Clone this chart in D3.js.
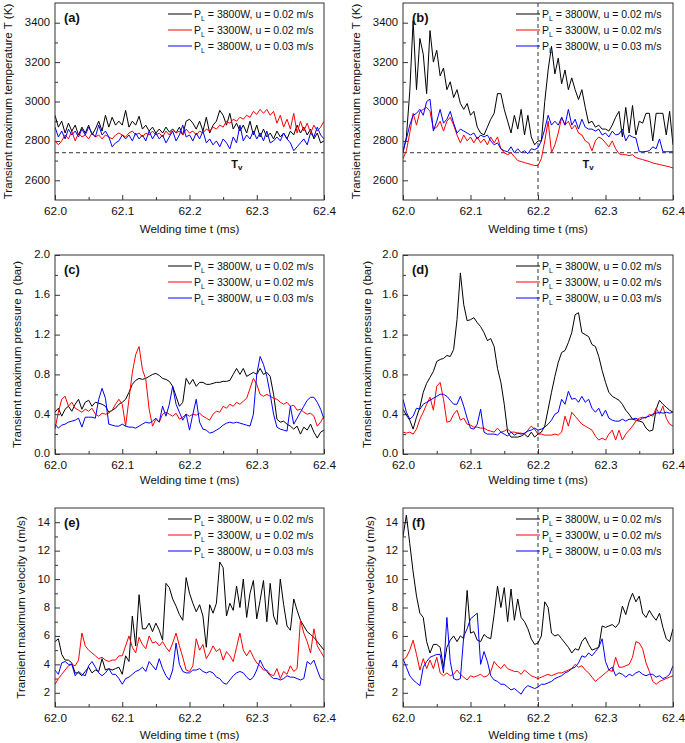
<!DOCTYPE html>
<html><head><meta charset="utf-8">
<script src="https://cdn.jsdelivr.net/npm/d3@7"></script>
<style>body{margin:0;background:#fff}svg{display:block}</style>
</head><body>
<svg id="chart" width="685" height="743"></svg>
<script>
// ---------- DATA ----------
const tStart = 62.0, tStep = 0.005;           // sample grid of every series (81 points)
const xTicks = [62.0, 62.1, 62.2, 62.3, 62.4];
const xMinor = [62.05, 62.15, 62.25, 62.35];
const legendLabels = ["3800W, u = 0.02 m/s", "3300W, u = 0.02 m/s", "3800W, u = 0.03 m/s"];
const tempTicks = [2600, 2800, 3000, 3200, 3400];
const tempMinor = [2500, 2700, 2900, 3100, 3300, 3500];
const pressTicks = [0.0, 0.4, 0.8, 1.2, 1.6, 2.0];
const pressMinor = [0.2, 0.6, 1.0, 1.4, 1.8];
const velTicks = [2, 4, 6, 8, 10, 12, 14];
const velMinor = [1, 3, 5, 7, 9, 11, 13, 15];
const Tv = 2740;
const splitTime = 62.2;

// (a) temperature
const tempA_black = [2930,2870,2900,2840,2890,2850,2880,2830,2870,2840,
 2880,2830,2860,2900,2850,2930,2870,2920,2880,2900,
 2880,2955,2870,2900,2880,2925,2860,2880,2850,2870,
 2840,2860,2840,2870,2845,2860,2840,2870,2830,2900,
 2910,2890,2860,2900,2850,2920,2840,2880,2900,2955,
 2930,2880,2940,2860,2890,2850,2880,2840,2900,2830,
 2880,2820,2860,2820,2840,2810,2850,2820,2840,2810,
 2850,2830,2880,2840,2870,2830,2860,2810,2840,2790,
 2800];
const tempA_red = [2800,2780,2800,2830,2810,2850,2800,2840,2820,2830,
 2810,2840,2820,2830,2810,2830,2820,2810,2830,2840,
 2830,2820,2840,2850,2830,2840,2820,2840,2830,2850,
 2830,2840,2820,2850,2830,2860,2840,2850,2830,2860,
 2840,2850,2830,2850,2840,2860,2850,2870,2860,2880,
 2870,2900,2890,2910,2900,2920,2910,2930,2920,2950,
 2935,2960,2940,2960,2930,2950,2890,2930,2870,2910,
 2860,2940,2840,2900,2850,2890,2840,2880,2850,2870,
 2900];
const tempA_blue = [2870,2820,2850,2810,2860,2830,2850,2820,2860,2830,
 2870,2840,2820,2880,2830,2850,2820,2770,2790,2800,
 2830,2810,2830,2800,2840,2810,2830,2800,2850,2810,
 2840,2810,2830,2790,2820,2850,2800,2830,2880,2820,
 2830,2800,2840,2810,2850,2790,2810,2780,2800,2770,
 2810,2790,2760,2820,2790,2880,2800,2830,2810,2850,
 2810,2840,2800,2850,2790,2800,2820,2800,2840,2810,
 2790,2750,2770,2790,2810,2780,2840,2820,2870,2830,
 2810];

// (b) temperature
const tempB_black = [2740,2820,3050,3410,3060,3320,3240,3040,3360,3200,
 3260,3130,3170,3060,3100,3020,3060,2990,2960,2990,
 2930,2950,2870,2840,2830,2870,2910,2940,3040,3040,
 2960,2900,2840,2930,2860,2960,2830,2930,2820,2780,
 2800,2800,3000,3160,3280,3140,3220,3090,3160,3060,
 3120,3060,3010,3060,2970,2890,2900,2870,2880,2860,
 2860,2850,2880,2920,2950,2820,2970,2840,2980,2830,
 2900,2890,2940,2940,2800,2940,2940,2940,2830,2950,
 2780];
const tempB_red = [2710,2750,2840,2940,2880,2950,2960,2970,2950,2860,
 2870,2900,2850,2900,2920,2880,2830,2790,2830,2800,
 2820,2790,2820,2790,2810,2780,2820,2790,2820,2760,
 2740,2730,2740,2720,2700,2695,2690,2685,2680,2675,
 2675,2710,2800,2900,2740,2780,2840,2920,2880,2900,
 2860,2880,2840,2830,2800,2790,2750,2800,2820,2810,
 2790,2770,2800,2760,2735,2730,2730,2725,2730,2715,
 2710,2705,2700,2695,2688,2684,2680,2676,2672,2668,
 2662];
const tempB_blue = [2750,2810,2880,2930,2940,2960,2930,3000,3012,2850,
 2900,2960,2890,2910,2950,2890,2840,2860,2850,2840,
 2830,2840,2810,2830,2820,2830,2800,2780,2790,2760,
 2750,2745,2770,2740,2760,2740,2750,2735,2760,2755,
 2765,2800,2860,2930,2880,2900,2880,2920,2880,2960,
 2880,2910,2860,2910,2870,2860,2860,2850,2860,2830,
 2840,2820,2850,2830,2835,2860,2800,2830,2820,2815,
 2745,2745,2746,2750,2770,2760,2810,2745,2745,2745,
 2745];

// (c) pressure
const pressC_black = [0.42,0.46,0.38,0.45,0.48,0.43,0.50,0.55,0.45,0.52,
 0.54,0.48,0.52,0.51,0.50,0.48,0.42,0.44,0.46,0.50,
 0.52,0.55,0.62,0.70,0.74,0.76,0.75,0.76,0.78,0.80,
 0.81,0.79,0.76,0.75,0.73,0.68,0.58,0.48,0.52,0.76,
 0.70,0.75,0.68,0.72,0.72,0.70,0.70,0.71,0.72,0.72,
 0.73,0.73,0.74,0.80,0.86,0.80,0.86,0.78,0.80,0.82,
 0.80,0.86,0.80,0.82,0.78,0.60,0.35,0.32,0.33,0.30,
 0.28,0.25,0.28,0.20,0.27,0.24,0.30,0.22,0.16,0.22,
 0.24];
const pressC_red = [0.25,0.42,0.55,0.58,0.48,0.52,0.46,0.44,0.42,0.45,
 0.43,0.46,0.40,0.38,0.41,0.40,0.41,0.44,0.50,0.55,
 0.50,0.28,0.55,0.82,1.00,1.08,0.85,0.75,0.45,0.28,
 0.35,0.32,0.40,0.42,0.40,0.38,0.41,0.35,0.37,0.40,
 0.38,0.40,0.39,0.41,0.38,0.36,0.34,0.40,0.43,0.42,
 0.48,0.46,0.50,0.48,0.52,0.50,0.53,0.56,0.66,0.76,
 0.70,0.60,0.58,0.60,0.58,0.56,0.55,0.52,0.50,0.52,
 0.48,0.49,0.44,0.45,0.42,0.40,0.41,0.38,0.28,0.32,
 0.38];
const pressC_blue = [0.30,0.26,0.29,0.30,0.32,0.33,0.34,0.36,0.27,0.37,
 0.37,0.37,0.36,0.55,0.66,0.56,0.30,0.29,0.28,0.28,
 0.30,0.28,0.27,0.27,0.26,0.28,0.30,0.32,0.31,0.33,
 0.36,0.32,0.48,0.38,0.50,0.68,0.50,0.42,0.34,0.40,
 0.24,0.40,0.55,0.32,0.25,0.24,0.21,0.22,0.24,0.26,
 0.29,0.31,0.32,0.31,0.32,0.31,0.30,0.29,0.28,0.40,
 0.80,0.98,0.90,0.78,0.60,0.40,0.27,0.25,0.24,0.23,
 0.48,0.30,0.36,0.42,0.48,0.54,0.57,0.57,0.52,0.45,
 0.35];

// (d) pressure
const pressD_black = [0.45,0.39,0.34,0.25,0.37,0.47,0.62,0.71,0.77,0.83,
 0.93,0.95,0.96,0.99,0.98,1.05,1.35,1.82,1.50,1.34,
 1.35,1.37,1.32,1.28,1.22,1.14,1.16,1.08,0.86,0.72,
 0.50,0.22,0.17,0.17,0.17,0.18,0.20,0.17,0.22,0.17,
 0.20,0.22,0.28,0.45,0.62,0.78,0.92,1.02,1.04,1.12,
 1.22,1.40,1.42,1.22,1.20,1.18,1.10,1.08,0.98,0.84,
 0.72,0.62,0.58,0.56,0.54,0.50,0.44,0.40,0.35,0.34,
 0.33,0.32,0.26,0.23,0.24,0.45,0.54,0.50,0.47,0.44,
 0.42];
const pressD_red = [0.22,0.21,0.22,0.20,0.25,0.35,0.42,0.50,0.57,0.44,
 0.68,0.72,0.55,0.32,0.33,0.40,0.44,0.34,0.36,0.30,
 0.29,0.27,0.27,0.26,0.26,0.24,0.23,0.22,0.26,0.22,
 0.23,0.25,0.22,0.22,0.21,0.21,0.20,0.24,0.28,0.25,
 0.20,0.20,0.19,0.19,0.19,0.20,0.19,0.22,0.38,0.28,
 0.42,0.38,0.34,0.30,0.28,0.26,0.24,0.18,0.14,0.16,
 0.14,0.20,0.24,0.14,0.24,0.14,0.20,0.24,0.28,0.33,
 0.36,0.37,0.36,0.40,0.38,0.46,0.40,0.48,0.36,0.30,
 0.28];
const pressD_blue = [0.55,0.42,0.35,0.38,0.46,0.45,0.50,0.52,0.54,0.56,
 0.58,0.60,0.60,0.58,0.54,0.50,0.50,0.58,0.48,0.36,
 0.26,0.25,0.30,0.45,0.22,0.20,0.20,0.20,0.19,0.22,
 0.20,0.18,0.22,0.19,0.21,0.20,0.21,0.23,0.24,0.26,
 0.24,0.25,0.27,0.30,0.34,0.40,0.42,0.55,0.50,0.63,
 0.55,0.56,0.52,0.58,0.52,0.55,0.46,0.42,0.46,0.38,
 0.44,0.36,0.34,0.33,0.33,0.35,0.33,0.35,0.35,0.36,
 0.34,0.36,0.37,0.38,0.40,0.41,0.42,0.41,0.42,0.41,
 0.42];

// (e) velocity
const velE_black = [5.6,5.8,4.7,4.3,4.3,4.1,3.4,3.4,3.2,3.5,
 3.8,3.4,3.6,3.5,4.4,3.6,3.7,3.6,3.7,3.8,
 3.3,4.6,4.2,7.4,5.3,8.9,6.5,6.5,6.9,6.3,
 6.9,6.4,5.7,9.7,9.4,8.6,8.1,7.5,7.1,10.1,
 9.0,8.3,7.7,8.2,7.4,5.2,8.2,7.6,8.3,11.2,
 10.8,7.4,8.3,7.8,9.5,8.0,10.0,7.3,9.0,9.9,
 7.2,8.5,9.9,7.0,9.7,7.4,6.8,10.0,8.2,6.7,
 6.4,8.6,7.8,7.1,6.7,6.3,6.1,5.9,5.6,5.3,
 5.0];
const velE_red = [2.6,3.0,3.3,3.6,3.9,4.0,3.9,4.3,6.2,5.3,
 5.0,4.8,4.6,4.4,4.5,4.3,4.2,4.3,4.3,4.6,
 4.6,5.3,6.0,5.2,4.8,5.9,5.4,5.1,6.0,5.5,
 5.6,5.3,5.6,5.2,4.9,5.5,6.2,5.3,4.5,3.6,
 3.5,3.9,5.8,5.0,5.4,4.4,4.8,5.3,4.9,5.1,
 4.3,4.9,4.6,4.2,5.2,6.2,5.0,4.6,5.0,4.5,
 4.1,3.9,3.6,3.6,3.3,3.2,3.7,3.0,3.5,3.3,
 3.9,3.5,3.7,7.1,6.2,5.6,4.8,6.5,5.3,4.9,
 4.5];
const velE_blue = [3.6,3.3,4.1,4.2,4.0,4.0,3.2,3.5,3.3,3.2,
 3.9,4.2,3.8,3.4,3.2,3.4,3.7,3.3,3.3,3.0,
 2.6,3.0,3.1,3.3,3.5,3.6,3.8,3.5,4.2,3.9,
 3.6,4.4,3.7,3.2,2.9,3.6,5.5,4.0,3.5,3.4,
 3.4,3.6,3.6,3.7,3.5,3.4,3.5,3.4,3.1,3.0,
 2.7,2.6,2.9,3.2,3.4,3.5,3.4,3.1,2.9,3.1,
 3.6,4.3,3.8,3.5,3.2,3.0,3.0,2.9,3.0,3.2,
 3.1,3.1,3.0,2.9,3.0,4.2,4.0,4.3,3.6,3.0,
 2.9];

// (f) velocity
const velF_black = [13.0,14.5,12.5,10.5,8.8,7.6,7.3,5.6,4.8,5.4,
 5.4,5.2,3.8,5.2,5.7,6.0,5.6,6.0,5.8,9.2,
 6.2,6.3,5.7,5.6,6.1,5.9,5.8,7.5,9.5,8.0,
 9.4,7.0,9.3,7.1,8.6,7.3,7.0,6.5,5.8,5.4,
 5.5,6.0,8.4,8.0,6.2,6.0,6.1,5.8,5.5,5.2,
 4.8,5.1,5.0,5.6,5.9,5.4,5.0,5.1,5.2,6.7,
 6.6,6.7,6.8,6.6,6.9,8.1,7.5,8.4,9.0,8.4,
 8.8,7.6,7.3,7.8,7.4,7.1,7.6,6.6,5.8,5.6,
 6.5];
const velF_red = [4.3,4.5,5.0,5.7,4.7,3.6,4.4,3.7,4.3,3.7,
 4.5,3.4,3.2,3.4,3.2,3.3,3.6,3.3,3.1,2.9,
 3.2,3.1,3.2,3.3,3.1,3.2,3.5,4.2,3.9,3.7,
 4.0,3.7,3.6,3.5,3.5,3.3,3.6,3.4,3.2,3.1,
 3.0,3.1,3.2,3.3,3.2,3.3,3.4,3.4,3.5,3.6,
 3.7,4.0,3.8,3.9,3.6,3.4,3.1,2.8,3.0,3.2,
 3.4,3.6,3.5,4.5,3.8,3.8,3.9,4.0,4.5,5.6,
 5.5,5.1,4.1,3.5,2.8,2.6,2.8,2.9,3.0,3.1,
 3.2];
const velF_blue = [4.4,3.8,3.2,2.9,2.7,2.5,3.8,4.2,4.5,4.6,
 4.7,4.7,3.4,7.3,4.2,3.0,2.9,3.0,6.0,6.5,
 7.2,7.4,7.6,4.0,4.9,4.2,3.2,2.9,2.8,2.6,
 2.6,2.4,2.2,2.3,2.1,1.9,2.3,2.5,2.4,2.3,
 2.4,2.6,2.6,2.7,2.8,3.0,3.1,3.2,3.4,3.5,
 3.7,3.8,4.1,4.6,4.5,4.8,4.6,4.9,5.2,5.8,
 4.2,3.6,3.8,3.2,3.4,3.3,3.1,3.3,3.2,3.4,
 3.5,3.3,3.2,3.3,3.3,3.1,3.2,3.0,3.1,3.3,
 3.9];

// ---------- LAYOUT / STYLE ----------
const colors = ["#000000", "#ff0000", "#0000ff"];
const cols = [[55, 324], [403, 673]];
const rows = [[3, 200], [255, 454], [508, 707]];
const xTitleOffset = [29, 26, 28];
const font = "'Liberation Sans', Arial, sans-serif";

const panels = [
  {lab:"(a)", c:0, r:0, series:[tempA_black, tempA_red, tempA_blue], dom:[2500,3500], ticks:tempTicks, minor:tempMinor, fmt:d3.format("d"), title:"Transient maximum temperature T (K)", tx:8, tv:true, split:false, tvT:62.262},
  {lab:"(b)", c:1, r:0, series:[tempB_black, tempB_red, tempB_blue], dom:[2500,3500], ticks:tempTicks, minor:tempMinor, fmt:d3.format("d"), title:"Transient maximum temperature T (K)", tx:356, tv:true, split:true, tvT:62.266},
  {lab:"(c)", c:0, r:1, series:[pressC_black, pressC_red, pressC_blue], dom:[0,2], ticks:pressTicks, minor:pressMinor, fmt:d3.format(".1f"), title:"Transient maximum pressure p (bar)", tx:17, tv:false, split:false},
  {lab:"(d)", c:1, r:1, series:[pressD_black, pressD_red, pressD_blue], dom:[0,2], ticks:pressTicks, minor:pressMinor, fmt:d3.format(".1f"), title:"Transient maximum pressure p (bar)", tx:367, tv:false, split:true},
  {lab:"(e)", c:0, r:2, series:[velE_black, velE_red, velE_blue], dom:[1,15], ticks:velTicks, minor:velMinor, fmt:d3.format("d"), title:"Transient maximum velocity u (m/s)", tx:21, tv:false, split:false},
  {lab:"(f)", c:1, r:2, series:[velF_black, velF_red, velF_blue], dom:[1,15], ticks:velTicks, minor:velMinor, fmt:d3.format("d"), title:"Transient maximum velocity u (m/s)", tx:370, tv:false, split:true}
];

const svg = d3.select("#chart");
svg.append("rect").attr("width", 685).attr("height", 743).attr("fill", "#fff");

panels.forEach((p, pi) => {
  const [x0, x1] = cols[p.c];
  const [y0, y1] = rows[p.r];
  const x = d3.scaleLinear().domain([62.0, 62.4]).range([x0, x1]);
  const y = d3.scaleLinear().domain(p.dom).range([y1, y0]);
  const g = svg.append("g");

  const clipId = "clip" + pi;
  g.append("clipPath").attr("id", clipId).append("rect")
    .attr("x", x0).attr("y", y0).attr("width", x1 - x0).attr("height", y1 - y0);

  // axes (ticks inside)
  const axB = g.append("g").attr("transform", `translate(0,${y1})`)
    .call(d3.axisBottom(x).tickValues(xTicks).tickSize(-5).tickPadding(7).tickFormat(d3.format(".1f")));
  const axBm = g.append("g").attr("transform", `translate(0,${y1})`)
    .call(d3.axisBottom(x).tickValues(xMinor).tickSize(-3).tickFormat(""));
  const axL = g.append("g").attr("transform", `translate(${x0},0)`)
    .call(d3.axisLeft(y).tickValues(p.ticks).tickSize(-5).tickPadding(5).tickFormat(p.fmt));
  const axLm = g.append("g").attr("transform", `translate(${x0},0)`)
    .call(d3.axisLeft(y).tickValues(p.minor.filter(v => v > p.dom[0] && v < p.dom[1])).tickSize(-3).tickFormat(""));
  [axB, axBm, axL, axLm].forEach(a => {
    a.select(".domain").remove();
    a.selectAll("line").attr("stroke", "#333");
    a.selectAll("text").attr("font-family", font).attr("fill", "#111");
  });
  axB.selectAll("text").attr("font-size", 11.8);
  axL.selectAll("text").attr("font-size", 11.3).attr("dy", "0.26em");

  // reference lines
  if (p.tv) {
    g.append("line").attr("x1", x0).attr("x2", x1).attr("y1", y(Tv)).attr("y2", y(Tv))
      .attr("stroke", "#333").attr("stroke-width", 1).attr("stroke-dasharray", "4,3");
    const tvText = g.append("text").attr("x", x(p.tvT)).attr("y", y(2660))
      .attr("font-family", font).attr("font-size", 11).attr("font-weight", "bold").attr("fill", "#111");
    tvText.append("tspan").text("T");
    tvText.append("tspan").attr("font-size", 8).attr("dy", 2).text("v");
  }
  if (p.split) {
    g.append("line").attr("x1", x(splitTime)).attr("x2", x(splitTime)).attr("y1", y0).attr("y2", y1)
      .attr("stroke", "#333").attr("stroke-width", 1).attr("stroke-dasharray", "4,3");
  }

  // series
  const line = d3.line().x((d, i) => x(tStart + i * tStep)).y(d => y(d));
  p.series.forEach((s, si) => {
    g.append("path").datum(s).attr("d", line).attr("fill", "none")
      .attr("stroke", colors[si]).attr("stroke-width", 1).attr("stroke-linejoin", "round")
      .attr("clip-path", `url(#${clipId})`);
  });

  // frame
  g.append("rect").attr("x", x0).attr("y", y0).attr("width", x1 - x0).attr("height", y1 - y0)
    .attr("fill", "none").attr("stroke", "#333").attr("stroke-width", 1);

  // legend
  legendLabels.forEach((lab, li) => {
    const ly = y0 + 11 + li * 16;
    g.append("line").attr("x1", x0 + 113).attr("x2", x0 + 137).attr("y1", ly).attr("y2", ly)
      .attr("stroke", colors[li]).attr("stroke-width", 1);
    const t = g.append("text").attr("x", x0 + 139).attr("y", ly + 4)
      .attr("font-family", font).attr("font-size", 10.5).attr("fill", "#111");
    t.append("tspan").text("P");
    t.append("tspan").attr("font-size", 7).attr("dy", 3).text("L");
    t.append("tspan").attr("dy", -3).text(" = " + lab);
  });

  // panel label
  g.append("text").attr("x", x0 + 9).attr("y", y0 + 18.5)
    .attr("font-family", font).attr("font-size", 13).attr("font-weight", "bold").attr("fill", "#111")
    .text(p.lab);

  // axis titles
  g.append("text").attr("x", (x0 + x1) / 2).attr("y", y1 + xTitleOffset[p.r] + 4)
    .attr("text-anchor", "middle").attr("font-family", font).attr("font-size", 11.6).attr("fill", "#111")
    .text("Welding time t (ms)");
  g.append("text").attr("transform", `translate(${p.tx},${(y0 + y1) / 2}) rotate(-90)`)
    .attr("dy", "0.35em").attr("text-anchor", "middle").attr("font-family", font).attr("font-size", 11.6).attr("fill", "#111")
    .text(p.title);
});
</script>
</body></html>
